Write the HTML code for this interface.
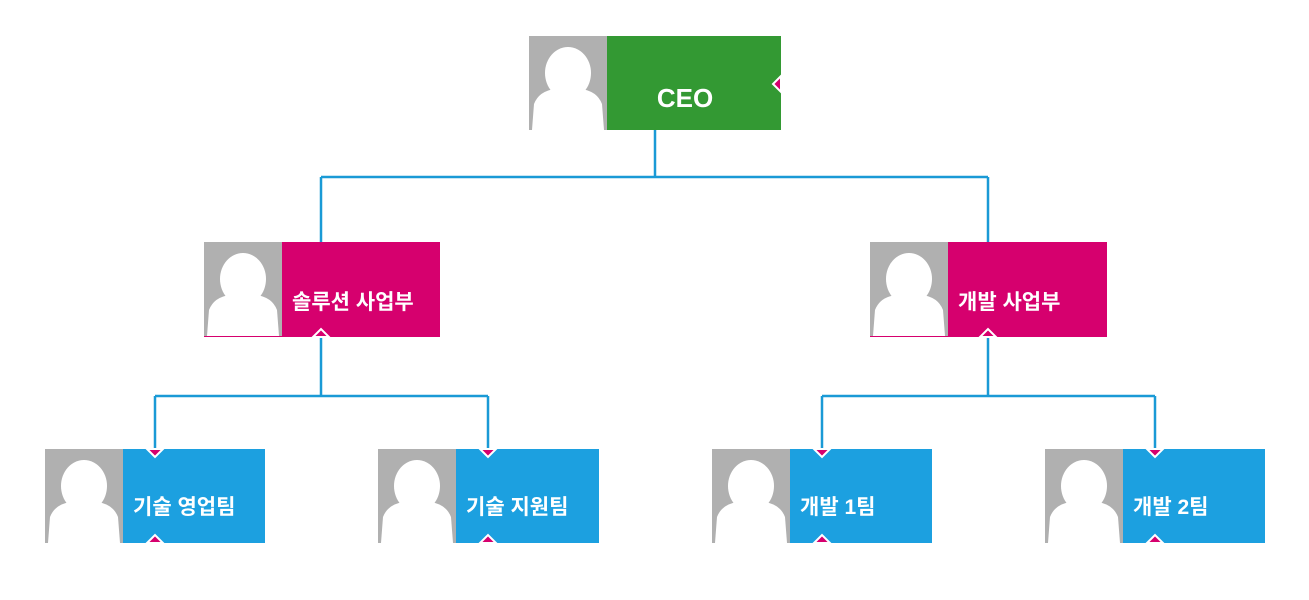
<!DOCTYPE html>
<html><head><meta charset="utf-8"><style>
body{margin:0;width:1309px;height:600px;background:#fff;position:relative;overflow:hidden;font-family:"Liberation Sans","Noto Sans CJK KR",sans-serif}
svg{position:absolute;left:0;top:0}
</style></head><body>
<svg width="1309" height="600">
<defs>
<g id="av"><ellipse cx="39" cy="37" rx="23" ry="26" fill="#fff"/><path d="M3 94 L5 68 Q10 55 26 53 Q39 61 52 53 Q68 55 73 68 L75 94 Z" fill="#fff"/></g>
</defs>
<g fill="none" stroke="#1a9ad6" stroke-width="2.5">
<path d="M655 130V177M321 177H988M321 177V242M988 177V242"/>
<path d="M321 337V396M155 396H488M155 396V449M488 396V449"/>
<path d="M988 337V396M822 396H1155M822 396V449M1155 396V449"/>
</g>
<rect x="529" y="36" width="78" height="94" fill="#b0b0b0"/><use href="#av" x="529" y="36"/>
<rect x="607" y="36" width="174" height="94" fill="#339933"/>
<rect x="204" y="242" width="78" height="95" fill="#b0b0b0"/><use href="#av" x="204" y="242"/>
<rect x="282" y="242" width="158" height="95" fill="#d6006e"/>
<line x1="204" y1="336.5" x2="282" y2="336.5" stroke="#d6006e"/>
<rect x="870" y="242" width="78" height="95" fill="#b0b0b0"/><use href="#av" x="870" y="242"/>
<rect x="948" y="242" width="159" height="95" fill="#d6006e"/>
<line x1="870" y1="336.5" x2="948" y2="336.5" stroke="#d6006e"/>
<g>
<rect x="45" y="449" width="78" height="94" fill="#b0b0b0"/><use href="#av" x="45" y="449"/><rect x="123" y="449" width="142" height="94" fill="#1ca0e0"/>
<rect x="378" y="449" width="78" height="94" fill="#b0b0b0"/><use href="#av" x="378" y="449"/><rect x="456" y="449" width="143" height="94" fill="#1ca0e0"/>
<rect x="712" y="449" width="78" height="94" fill="#b0b0b0"/><use href="#av" x="712" y="449"/><rect x="790" y="449" width="142" height="94" fill="#1ca0e0"/>
<rect x="1045" y="449" width="78" height="94" fill="#b0b0b0"/><use href="#av" x="1045" y="449"/><rect x="1123" y="449" width="142" height="94" fill="#1ca0e0"/>
</g>
<g fill="#d6006e" stroke="#fff" stroke-width="2">
<polygon points="781,76 773,84 781,92"/>
<polygon points="313,337 321,329 329,337"/>
<polygon points="980,337 988,329 996,337"/>
<polygon points="147,449 155,457 163,449"/><polygon points="147,543 155,535 163,543"/>
<polygon points="480,449 488,457 496,449"/><polygon points="480,543 488,535 496,543"/>
<polygon points="814,449 822,457 830,449"/><polygon points="814,543 822,535 830,543"/>
<polygon points="1147,449 1155,457 1163,449"/><polygon points="1147,543 1155,535 1163,543"/>
</g>
<g fill="#fff" font-weight="bold" font-family="Liberation Sans, Noto Sans CJK KR, sans-serif">
<text x="685" y="107" font-size="26" text-anchor="middle">CEO</text>
<text x="292" y="309" font-size="21">솔루션 사업부</text>
<text x="958" y="309" font-size="21">개발 사업부</text>
<text x="133" y="514" font-size="21">기술 영업팀</text>
<text x="466" y="514" font-size="21">기술 지원팀</text>
<text x="800" y="514" font-size="21">개발 1팀</text>
<text x="1133" y="514" font-size="21">개발 2팀</text>
</g>
</svg>
</body></html>
